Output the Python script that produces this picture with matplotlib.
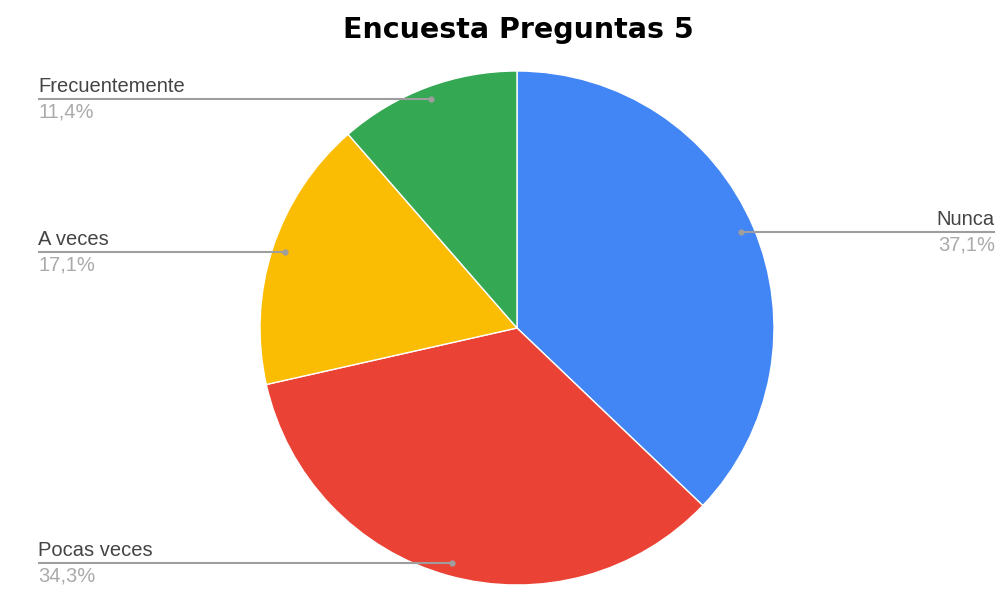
import numpy as np
import matplotlib.pyplot as plt

# survey answers, clockwise from 12 o'clock
labels = ['Nunca', 'Pocas veces', 'A veces', 'Frecuentemente']
values = [37.1, 34.3, 17.1, 11.4]
pct_text = ['37,1%', '34,3%', '17,1%', '11,4%']
colors = ['#4285F4', '#EA4335', '#FBBC04', '#34A853']

W, H = 1007, 610
fig = plt.figure(figsize=(W / 100, H / 100), dpi=100)
ax = fig.add_axes([0, 0, 1, 1])

cx, cy, R = 517, H - 328, 257
ax.pie(values, colors=colors, startangle=90, counterclock=False,
       center=(cx, cy), radius=R, frame=True,
       wedgeprops=dict(edgecolor='white', linewidth=1))
ax.set_xlim(0, W)
ax.set_ylim(0, H)
ax.axis('off')

# leader lines with dot inside each slice
cum = np.cumsum([0] + values[:-1])
total = sum(values)
for lab, val, start, pct in zip(labels, values, cum, pct_text):
    mid = (start + val / 2) / total * 360
    ang = np.deg2rad(90 - mid)
    px = cx + 0.95 * R * np.cos(ang)
    py = cy + 0.95 * R * np.sin(ang)
    if px > cx:
        xend, ha = 995, 'right'
    else:
        xend, ha = 38, 'left'
    ax.plot([px, xend], [py, py], color='#9e9e9e', lw=1.5, solid_capstyle='butt')
    ax.plot(px, py, 'o', color='#9e9e9e', ms=3.5)
    ax.text(xend, py + 3, lab, ha=ha, va='bottom', fontsize=14.5,
            family='Liberation Sans', color='#444444')
    ax.text(xend, py - 3, pct, ha=ha, va='top', fontsize=14.5,
            family='Liberation Sans', color='#aaaaaa')

fig.text(518 / W, 1 - 30 / H, 'Encuesta Preguntas 5', ha='center', va='center',
         fontsize=20.5, fontweight='bold', family='DejaVu Sans', color='black')

fig.savefig('out.png', dpi=100)
